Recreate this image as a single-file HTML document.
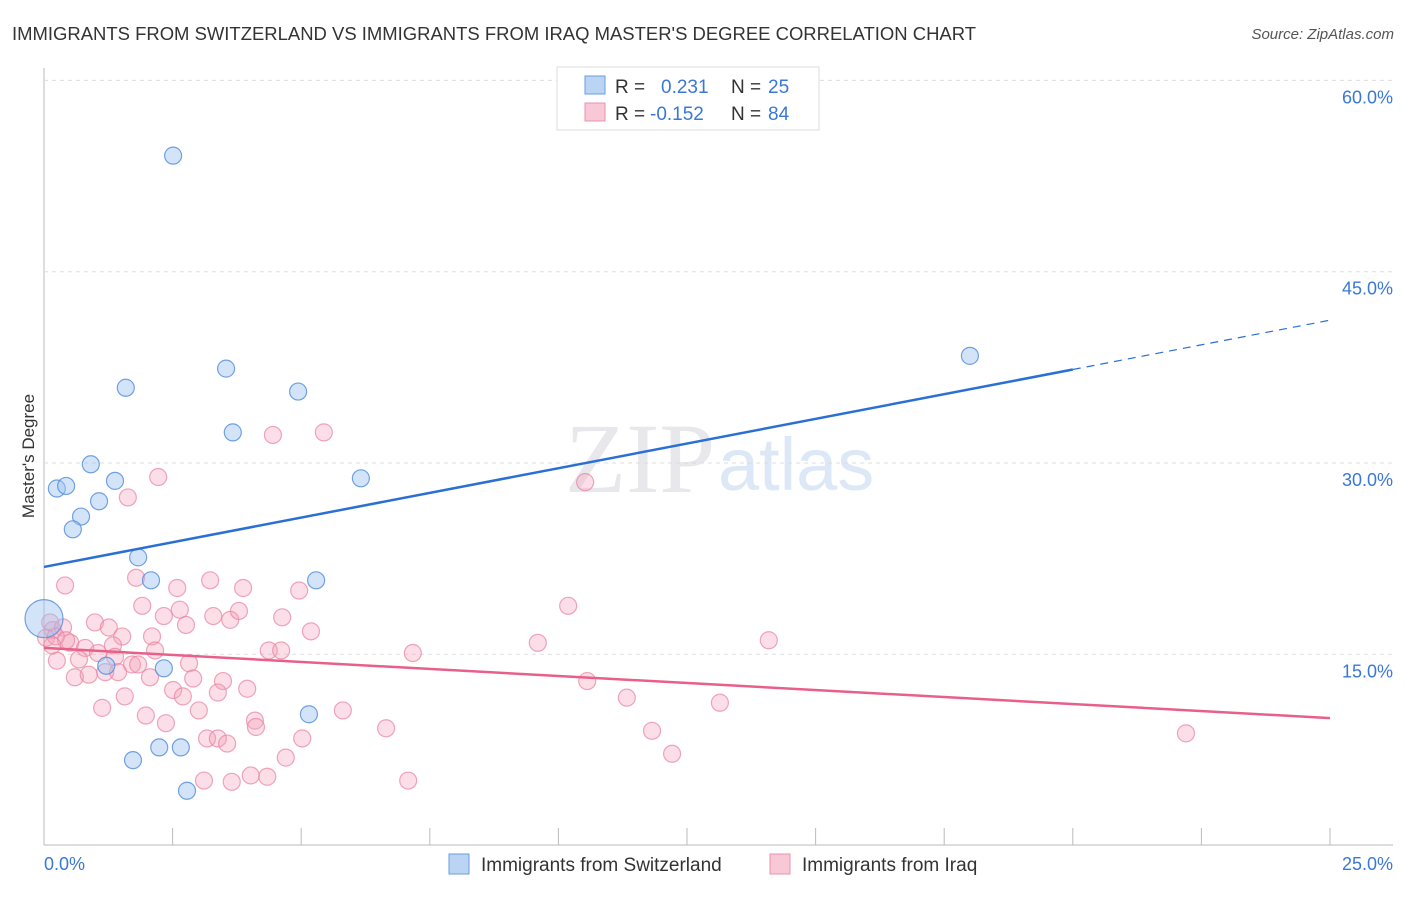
<!DOCTYPE html>
<html><head><meta charset="utf-8"><style>
body{margin:0;background:#fff;font-family:"Liberation Sans",sans-serif}
</style></head><body>
<svg width="1406" height="892" viewBox="0 0 1406 892" id="c" style="font-family:'Liberation Sans',sans-serif">
<text x="12" y="40" font-size="18" fill="#333" textLength="964" lengthAdjust="spacingAndGlyphs">IMMIGRANTS FROM SWITZERLAND VS IMMIGRANTS FROM IRAQ MASTER'S DEGREE CORRELATION CHART</text>
<text x="1394" y="39" font-size="15" fill="#555" text-anchor="end" font-style="italic">Source: ZipAtlas.com</text>
<text x="715" y="492" font-size="100" fill="#e8e8ec" text-anchor="end" font-family="Liberation Serif">ZIP</text>
<text x="718" y="490" font-size="74" fill="#dce8f6">atlas</text>
<text x="34" y="456" font-size="17" fill="#333" text-anchor="middle" transform="rotate(-90 34 456)">Master's Degree</text>
<g id="grid"></g><g id="pts"></g><g id="lines"></g>
<g>
<rect x="557" y="67" width="262" height="63" fill="#fff" stroke="#ddd"/>
<rect x="585" y="76" width="20" height="18" fill="#bcd4f4" stroke="#6a9ee0"/>
<rect x="585" y="103" width="20" height="18" fill="#f8c8d6" stroke="#e890aa"/>
<text x="615" y="93" font-size="19" fill="#333">R =</text><text x="661" y="93" font-size="19" fill="#3a78d8">0.231</text>
<text x="731" y="93" font-size="19" fill="#333">N =</text><text x="768" y="93" font-size="19" fill="#3a78d8">25</text>
<text x="615" y="120" font-size="19" fill="#333">R =</text><text x="650" y="120" font-size="19" fill="#3a78d8">-0.152</text>
<text x="731" y="120" font-size="19" fill="#333">N =</text><text x="768" y="120" font-size="19" fill="#3a78d8">84</text>
</g>
<g>
<rect x="449" y="854" width="20" height="20" fill="#bcd4f4" stroke="#6a9ee0"/>
<text x="481" y="871" font-size="19" fill="#333">Immigrants from Switzerland</text>
<rect x="770" y="854" width="20" height="20" fill="#f8c8d6" stroke="#e890aa"/>
<text x="802" y="871" font-size="19" fill="#333">Immigrants from Iraq</text>
</g>
</svg>
<script>
const yTicks=[15,30,45,60];
const xTickLabels=["0.0%","25.0%"];
const swX=[2.51,3.54,1.59,4.94,3.67,0.91,0.25,0.43,1.38,6.16,1.07,0.72,0.56,1.83,2.08,5.29,0,1.21,2.33,5.15,2.24,2.66,1.73,2.78,18.0];
const swY=[54.1,37.4,35.9,35.6,32.4,29.9,28.0,28.2,28.6,28.8,27.0,25.8,24.8,22.6,20.8,20.8,17.8,14.1,13.9,10.3,7.7,7.7,6.7,4.3,38.4];
const iqX=[0.41,1.79,2.59,3.23,3.87,4.96,1.91,2.33,2.64,2.76,3.29,3.62,3.79,4.63,5.19,0.99,1.26,1.52,2.10,2.16,4.37,4.61,0.12,0.17,0.37,0.51,0.80,1.05,1.34,1.38,0.25,0.68,0.60,0.87,1.19,1.44,1.71,1.83,2.06,2.82,2.90,2.51,2.70,3.48,3.38,3.95,1.57,1.13,1.98,2.37,3.01,4.10,4.12,3.17,3.38,3.56,4.70,5.02,3.11,3.65,4.02,4.34,5.81,2.22,1.63,4.45,5.44,10.52,10.19,9.60,14.09,7.17,10.56,11.33,13.14,6.65,11.82,12.21,7.08,22.2,0.04,0.23,0.43,0.16];
const iqY=[20.4,21.0,20.2,20.8,20.2,20.0,18.8,18.0,18.5,17.3,18.0,17.7,18.4,17.9,16.8,17.5,17.1,16.4,16.4,15.3,15.3,15.3,17.5,16.9,17.1,15.9,15.5,15.1,15.7,14.8,14.5,14.6,13.2,13.4,13.6,13.6,14.2,14.2,13.2,14.3,13.1,12.2,11.7,12.9,12.0,12.3,11.7,10.8,10.2,9.6,10.6,9.8,9.3,8.4,8.4,8.0,6.9,8.4,5.1,5.0,5.5,5.4,10.6,28.9,27.3,32.2,32.4,28.5,18.8,15.9,16.1,15.1,12.9,11.6,11.2,9.2,9.0,7.2,5.1,8.8,16.3,16.4,16.1,15.7];
const swLine=[21.85,41.2], iqLine=[15.5,10.0];
const X=v=>44+v/25*1286, Y=v=>845.6-v/15*191.3;
const NS="http://www.w3.org/2000/svg";
function mk(t,a,p){const e=document.createElementNS(NS,t);for(const k in a)e.setAttribute(k,a[k]);p.appendChild(e);return e;}
const g=document.getElementById('grid');
mk('line',{x1:44,y1:68,x2:44,y2:845,stroke:'#bbb'},g);
mk('line',{x1:44,y1:845,x2:1393,y2:845,stroke:'#bbb'},g);
for(let i=0;i<=10;i++){const l=mk('line',{x1:X(i*2.5),x2:X(i*2.5),y1:828,y2:845,stroke:'#bbb'},g);}
yTicks.forEach(t=>{const l=mk('line',{x1:44,x2:1393,y1:Y(t),y2:Y(t),stroke:'#ddd','stroke-dasharray':'4,4'},g);
const tx=mk('text',{x:1393,y:Y(t)+23,'font-size':18,fill:'#3a78d8','text-anchor':'end'},g);tx.textContent=t.toFixed(1)+'%';});
const t0=mk('text',{x:44,y:870,'font-size':18,fill:'#3a78d8'},g);t0.textContent=xTickLabels[0];
const t1=mk('text',{x:1393,y:870,'font-size':18,fill:'#3a78d8','text-anchor':'end'},g);t1.textContent=xTickLabels[1];
const p=document.getElementById('pts');
iqX.forEach((x,i)=>{const c=mk('circle',{cx:X(x),cy:Y(iqY[i]),r:8.5,fill:'rgba(244,160,186,0.35)',stroke:'rgba(232,130,160,0.7)','stroke-width':1.2},p);});
swX.forEach((x,i)=>{const c=mk('circle',{cx:X(x),cy:Y(swY[i]),r:x===0?19:8.5,fill:'rgba(160,196,240,0.45)',stroke:'rgba(80,140,220,0.8)','stroke-width':1.2},p);});
const L=document.getElementById('lines');
const ys=v=>swLine[0]+(swLine[1]-swLine[0])*v/25;
const b1=mk('line',{x1:X(0),y1:Y(ys(0)),x2:X(20),y2:Y(ys(20)),stroke:'#2a6fd4','stroke-width':2.5},L);
const b2=mk('line',{x1:X(20),y1:Y(ys(20)),x2:X(25),y2:Y(ys(25)),stroke:'#2a6fd4','stroke-width':1.2,'stroke-dasharray':'8,6'},L);
const p1=mk('line',{x1:X(0),y1:Y(iqLine[0]),x2:X(25),y2:Y(iqLine[1]),stroke:'#e8608a','stroke-width':2.5},L);
</script>
</body></html>
